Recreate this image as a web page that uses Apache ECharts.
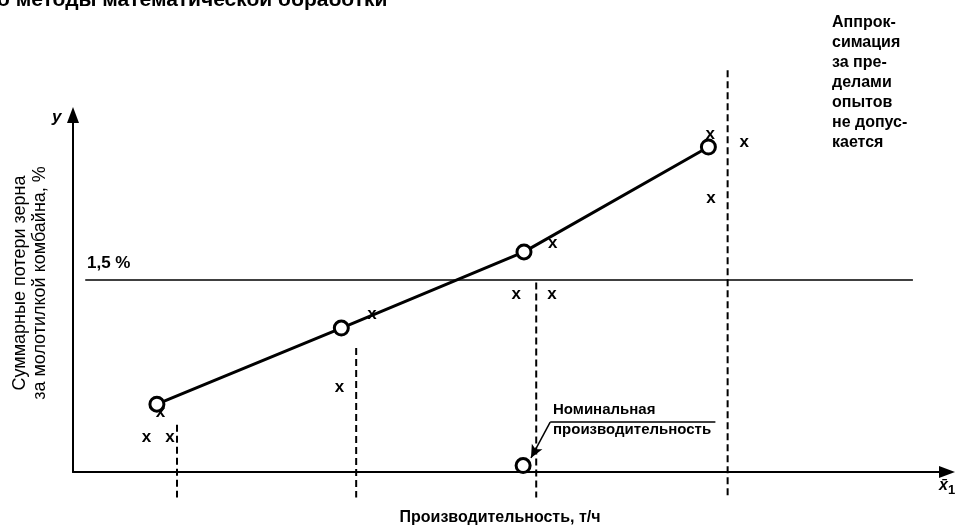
<!DOCTYPE html>
<html><head><meta charset="utf-8">
<script src="https://cdn.jsdelivr.net/npm/echarts@6/dist/echarts.min.js"></script>
<style>html,body{margin:0;padding:0;background:#fff}#c{width:955px;height:526px}</style>
</head><body><div id="c"></div>
<script>
// ---- data (x: производительность, условн. ед.; y: потери, %) ----
const fitX = [0.96, 3.07, 5.16, 7.27];
const fitY = [0.53, 1.125, 1.72, 2.54];
const nominalX = 5.15;
const nominalY = 0.05;
const obsX = [0.84, 1.11, 1.00, 3.05, 3.42, 5.07, 5.48, 5.49, 7.29, 7.68, 7.30];
const obsY = [0.27, 0.27, 0.47, 0.66, 1.23, 1.39, 1.39, 1.79, 2.64, 2.58, 2.14];
const limitLevel = 1.5;
const limitFromX = 0.14;
const limitToX = 9.61;
const boundX = [1.19, 3.24, 5.30, 7.49];
const boundTopY = [0.37, 0.97, 1.48, 3.14];
const boundBottomY = -0.2;
const leaderX = [7.35, 5.46, 5.24];
const leaderY = [0.39, 0.39, 0.11];

const FONT = '"Liberation Sans", Arial, sans-serif';
const chart = echarts.init(document.getElementById('c'), null, {renderer: 'canvas'});

const series = [];
boundX.forEach((bx, i) => {
  series.push({
    type: 'line', clip: false, symbol: 'none', silent: true, z: 2,
    data: [[bx, boundTopY[i]], [bx, boundBottomY]],
    lineStyle: {color: '#000', width: 2, type: [7, 4]}
  });
});
series.push({
  type: 'line', clip: false, symbol: 'none', z: 2,
  data: [[limitFromX, limitLevel], [limitToX, limitLevel]],
  lineStyle: {color: '#000', width: 1.6}
});
series.push({
  type: 'scatter', z: 3, symbol: 'circle', symbolSize: 0.1,
  itemStyle: {color: '#000', opacity: 1},
  data: obsX.map((x, i) => [x, obsY[i]]),
  label: {show: true, position: 'inside', formatter: 'x', color: '#000', opacity: 1,
          textBorderWidth: 0, textBorderColor: 'transparent',
          fontFamily: FONT, fontWeight: 'bold', fontSize: 17}
});
series.push({
  type: 'line', z: 5, clip: false,
  data: fitX.map((x, i) => [x, fitY[i]]),
  symbol: 'circle', symbolSize: 14, showSymbol: true,
  itemStyle: {color: '#fff', borderColor: '#000', borderWidth: 3, opacity: 1},
  lineStyle: {color: '#000', width: 3}
});
series.push({
  type: 'line', z: 4, clip: false, symbol: 'none',
  data: leaderX.slice(0, 2).map((x, i) => [x, leaderY[i]]),
  lineStyle: {color: '#000', width: 1.5}
});
series.push({
  type: 'scatter', z: 5, clip: false,
  data: [[nominalX, nominalY]],
  symbol: 'circle', symbolSize: 14,
  itemStyle: {color: '#fff', borderColor: '#000', borderWidth: 3, opacity: 1},
  markLine: {
    silent: true, animation: false,
    label: {show: false},
    lineStyle: {color: '#000', width: 1.5, type: 'solid', opacity: 1},
    symbol: ['none', 'arrow'], symbolSize: [9, 13],
    data: [[{coord: [leaderX[1], leaderY[1]]}, {coord: [leaderX[2], leaderY[2]]}]]
  }
});

chart.setOption({
  animation: false,
  backgroundColor: '#fff',
  grid: {left: 73, right: 8, top: 115, bottom: 54},
  xAxis: {
    type: 'value', min: 0, max: 10,
    axisLine: {show: true, onZero: true, symbol: ['none', 'triangle'], symbolSize: [12, 16],
               lineStyle: {color: '#000', width: 2}},
    axisTick: {show: false}, axisLabel: {show: false}, splitLine: {show: false}
  },
  yAxis: {
    type: 'value', min: 0, max: 2.79,
    axisLine: {show: true, onZero: true, symbol: ['none', 'triangle'], symbolSize: [12, 16],
               lineStyle: {color: '#000', width: 2}},
    axisTick: {show: false}, axisLabel: {show: false}, splitLine: {show: false}
  },
  graphic: [
    {type: 'text', left: -3, top: -10, style: {text: 'о методы математической обработки', font: 'bold 21px ' + FONT, fill: '#000'}},
    {type: 'text', left: 832, top: 13, style: {text: 'Аппрок-\nсимация\nза пре-\nделами\nопытов\nне допус-\nкается', font: 'bold 16px ' + FONT, lineHeight: 20, fill: '#000'}},
    {type: 'text', left: 553, top: 400, style: {text: 'Номинальная\nпроизводительность', font: 'bold 15px ' + FONT, lineHeight: 20, fill: '#000'}},
    {type: 'text', left: 87, top: 255, style: {text: '1,5 %', font: 'bold 17px ' + FONT, fill: '#000'}},
    {type: 'text', left: 52, top: 109, style: {text: 'y', font: 'italic bold 17px ' + FONT, fill: '#000'}},
    {type: 'text', left: 939, top: 478, style: {text: '{x|x̄}{s|1}', rich: {x: {font: 'italic bold 16px ' + FONT, fill: '#000'}, s: {font: 'bold 13px ' + FONT, fill: '#000', padding: [8, 0, 0, 0]}}}},
    {type: 'text', x: 500, y: 518, style: {text: 'Производительность, т/ч', font: 'bold 16px ' + FONT, fill: '#000', textAlign: 'center', textVerticalAlign: 'middle'}},
    {type: 'text', x: 30, y: 283, rotation: Math.PI / 2, style: {text: 'Суммарные потери зерна\nза молотилкой комбайна, %', font: '18px ' + FONT, lineHeight: 20, fill: '#000', textAlign: 'center', textVerticalAlign: 'middle'}}
  ],
  series: series
});
</script>
</body></html>
